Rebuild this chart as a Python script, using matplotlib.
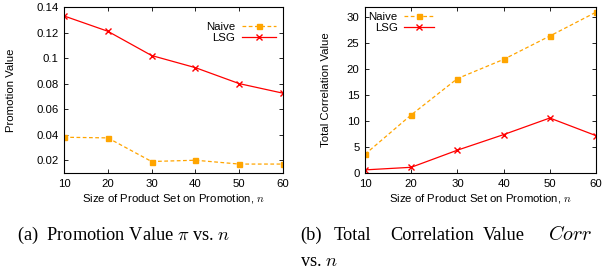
import matplotlib
matplotlib.use("Agg")
import matplotlib.pyplot as plt

plt.rcParams['font.family'] = ['Liberation Sans', 'DejaVu Sans']
plt.rcParams['mathtext.fontset'] = 'cm'

sizes = [10, 20, 30, 40, 50, 60]
promo_naive = [0.038, 0.0375, 0.019, 0.020, 0.017, 0.017]
promo_lsg = [0.133, 0.121, 0.102, 0.0925, 0.080, 0.0725]
corr_naive = [3.6, 11.2, 18.2, 21.9, 26.4, 31.0]
corr_lsg = [0.6, 1.1, 4.4, 7.4, 10.6, 7.2]

orange = '#FFA500'
red = '#FF0000'
W, H = 603, 275
FS = 8.2
fig = plt.figure(figsize=(W / 100, H / 100), dpi=100)

def mkax(x0, x1, y0, y1):
    return fig.add_axes([x0 / W, 1 - y1 / H, (x1 - x0) / W, (y1 - y0) / H])

ax1 = mkax(64, 283, 7, 173)
ax2 = mkax(365, 596, 7, 173)

def style(ax):
    ax.tick_params(direction='in', top=True, right=True, labelsize=FS, length=3, width=0.6, pad=4)
    for s in ax.spines.values():
        s.set_linewidth(0.8)
    ax.set_xlim(10, 60)
    ax.set_xticks(sizes)
    ax.set_xlabel('Size of Product Set on Promotion, $n$', fontsize=FS, labelpad=2.5)

def plot(ax, naive, lsg):
    ax.plot(sizes, naive, color=orange, ls='--', lw=0.9, marker='s', ms=3.6,
            mfc=orange, mec=orange, dashes=(3, 2), label='Naive')
    ax.plot(sizes, lsg, color=red, ls='-', lw=0.9, marker='x', ms=5, mew=1.0, label='LSG')

plot(ax1, promo_naive, promo_lsg)
style(ax1)
ax1.set_ylim(0.01, 0.14)
ax1.set_yticks([0.02, 0.04, 0.06, 0.08, 0.1, 0.12, 0.14])
ax1.set_yticklabels(['0.02', '0.04', '0.06', '0.08', '0.1', '0.12', '0.14'])
ax1.set_ylabel('Promotion Value', fontsize=FS)
ax1.yaxis.set_label_coords(-0.217, 0.5)
ax1.legend(loc='upper right', bbox_to_anchor=(1.0, 0.95), frameon=False, fontsize=FS,
           markerfirst=False, handlelength=3.0, handletextpad=0.6, labelspacing=0.1,
           borderaxespad=0.2)

plot(ax2, corr_naive, corr_lsg)
style(ax2)
ax2.set_ylim(0, 32)
ax2.set_yticks([0, 5, 10, 15, 20, 25, 30])
ax2.set_ylabel('Total Correlation Value', fontsize=FS)
ax2.yaxis.set_label_coords(-0.149, 0.5)
ax2.legend(loc='upper left', bbox_to_anchor=(-0.015, 1.01), frameon=False, fontsize=FS,
           markerfirst=False, handlelength=2.6, handletextpad=0.6, labelspacing=0.1,
           borderaxespad=0.2)

CFS = 13.2
def cap(x, y, s, fs=CFS):
    fig.text(x / W, 1 - y / H, s, fontsize=fs, family='Liberation Serif',
             va='center', ha='left')

cap(17, 235, r'(a)  Promotion Value $\pi$ vs. $n$')
for x, word in [(300, '(b)'), (334, 'Total'), (390, 'Correlation'),
                (483, 'Value')]:
    cap(x, 235, word)
cap(548, 235, r'$Corr$', fs=14.5)
cap(300, 262, r'vs. $n$')

fig.savefig('out.png', dpi=100)
